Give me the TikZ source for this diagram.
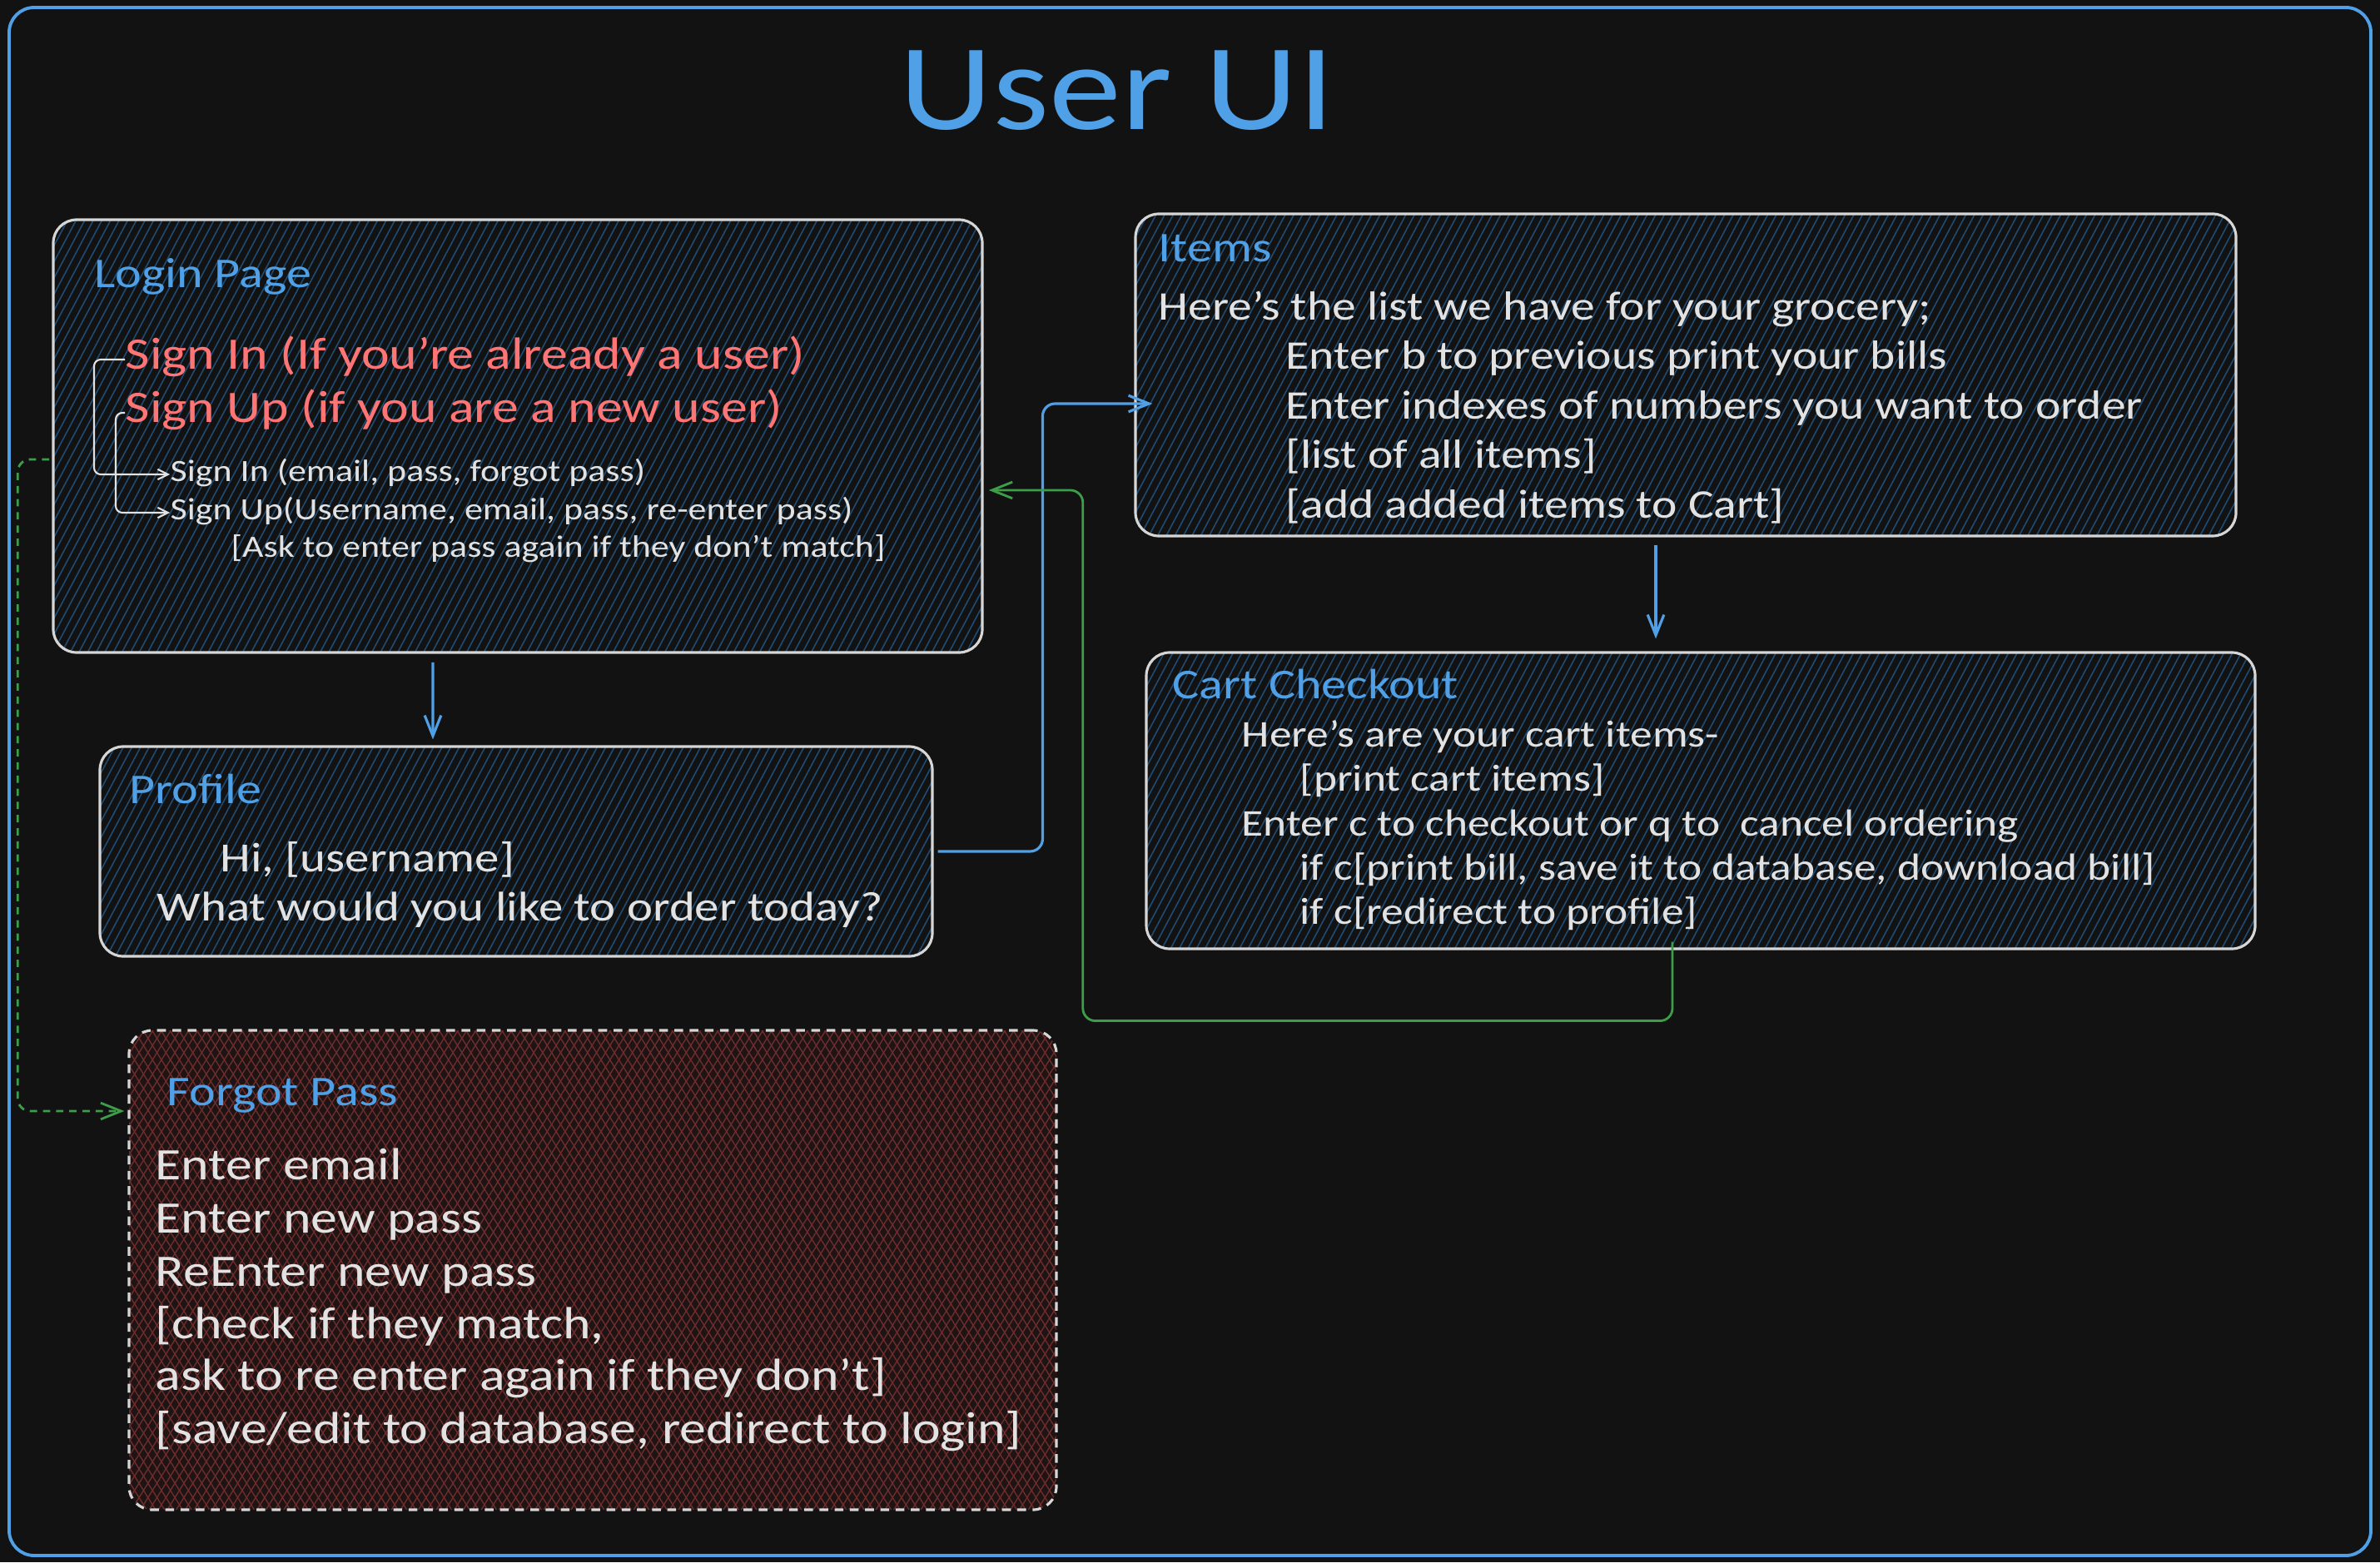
\documentclass[tikz,border=0pt]{standalone}
\usepackage{fontspec}
\setmainfont[FakeStretch=1.18]{Carlito}
\usetikzlibrary{arrows.meta,patterns.meta}

\definecolor{canvas}{HTML}{121212}
\definecolor{uiblue}{HTML}{4FA0E6}
\definecolor{uired}{HTML}{FF7474}
\definecolor{uitext}{HTML}{E2E2E2}
\definecolor{uiedge}{HTML}{D6D6D6}
\definecolor{hatch}{HTML}{1E4C74}
\definecolor{uigreen}{HTML}{3C9E48}
\definecolor{forgotfill}{HTML}{1E1414}
\definecolor{forgothatch}{HTML}{6E2C2C}

\tikzset{
  txt/.style={anchor=west, inner sep=0pt, text=uitext, yshift=-0.07cm,
    font=\fontsize{#1}{#1}\selectfont, execute at begin node=\strut},
  head/.style={txt=14.5, text=uiblue},
  sign/.style={txt=15.4, text=uired},
  page/.style={draw=uiedge, line width=0.9pt, rounded corners=0.28cm, inner sep=0pt,
    pattern={Lines[angle=62,distance=2.6pt,line width=0.45pt]}, pattern color=hatch},
  forgotpage/.style={preaction={fill=forgotfill},
    preaction={pattern={Lines[angle=-58,distance=2.6pt,line width=0.4pt]}, pattern color=forgothatch},
    draw=uiedge, line width=0.9pt, dash pattern=on 3pt off 2.2pt, rounded corners=0.28cm, inner sep=0pt,
    pattern={Lines[angle=58,distance=2.6pt,line width=0.4pt]}, pattern color=forgothatch},
  flow/.style={draw=uiblue, line width=0.9pt, rounded corners=0.15cm,
    -{Straight Barb[length=7pt,width=5.6pt]}},
  back/.style={draw=uigreen, line width=0.8pt, rounded corners=0.15cm,
    -{Straight Barb[length=7pt,width=5.6pt]}},
  link/.style={draw=uitext, line width=0.6pt, rounded corners=0.08cm,
    -{Straight Barb[length=3.5pt,width=3.5pt]}},
}

\begin{document}
\begin{tikzpicture}
  % canvas and frame
  \fill[canvas] (0,0) rectangle (28.59,-18.77);
  \useasboundingbox (0,0) rectangle (28.59,-18.77);
  \draw[uiblue, line width=1.1pt, rounded corners=0.3cm] (0.11,-0.09) rectangle (28.48,-18.69);
  \node[text=uiblue, font=\fontsize{42}{42}\selectfont] (title) at (13.42,-1.09) {User UI};

  % pages
  \node[page, minimum width=11.16cm, minimum height=5.20cm] (login) at (6.22,-5.24) {};
  \node[page, minimum width=13.22cm, minimum height=3.87cm] (items) at (20.25,-4.505) {};
  \node[page, minimum width=13.32cm, minimum height=3.56cm] (cart) at (20.43,-9.62) {};
  \node[page, minimum width=10.00cm, minimum height=2.52cm] (profile) at (6.20,-10.23) {};
  \node[forgotpage, minimum width=11.14cm, minimum height=5.76cm] (forgot) at (7.12,-15.26) {};

  % login page
  \node[head] (loginhead) at (1.13,-3.28) {Login Page};
  \node[sign] (signin) at (1.50,-4.25) {Sign In (If you're already a user)};
  \node[sign] (signup) at (1.50,-4.89) {Sign Up (if you are a new user)};
  \node[txt=10.6] (signinform) at (2.04,-5.63) {Sign In (email, pass, forgot pass)};
  \node[txt=10.6] (signupform) at (2.04,-6.09) {Sign Up(Username, email, pass, re-enter pass)};
  \node[txt=10.6] (mismatch) at (2.77,-6.55) {[Ask to enter pass again if they don't match]};
  \draw[link] (signin.west) -- ++(-0.37,0) |- (signinform.west);
  \draw[link] (signup.west) -- ++(-0.11,0) |- (signupform.west);

  % items
  \node[head] (itemshead) at (13.91,-2.97) {Items};
  \node[txt=13.9] (itemsintro) at (13.91,-3.68) {Here's the list we have for your grocery;};
  \node[txt=13.9] (itemsbill) at (15.44,-4.27) {Enter b to previous print your bills};
  \node[txt=13.9] (itemsorder) at (15.44,-4.87) {Enter indexes of numbers you want to order};
  \node[txt=13.9] (itemslist) at (15.44,-5.45) {[list of all items]};
  \node[txt=13.9] (itemscart) at (15.44,-6.05) {[add added items to Cart]};

  % cart checkout
  \node[head] (carthead) at (14.08,-8.22) {Cart Checkout};
  \node[txt=12.9] (cartintro) at (14.91,-8.81) {Here's are your cart items-};
  \node[txt=12.9] (cartprint) at (15.61,-9.34) {[print cart items]};
  \node[txt=12.9] (cartchoice) at (14.91,-9.88) {Enter c to checkout or q to~ cancel ordering};
  \node[txt=12.9] (cartbill) at (15.61,-10.41) {if c[print bill, save it to database, download bill]};
  \node[txt=12.9] (cartcancel) at (15.61,-10.94) {if c[redirect to profile]};

  % profile
  \node[head] (profilehead) at (1.55,-9.48) {Profile};
  \node[txt=14.2] (greeting) at (2.64,-10.30) {Hi, [username]};
  \node[txt=14.2] (question) at (1.88,-10.90) {What would you like to order today?};

  % forgot pass
  \node[head] (forgothead) at (2.00,-13.11) {Forgot Pass};
  \node[txt=15.4] (fpemail) at (1.86,-14.00) {Enter email};
  \node[txt=15.4] (fpnew) at (1.86,-14.64) {Enter new pass};
  \node[txt=15.4] (fpagain) at (1.86,-15.28) {ReEnter new pass};
  \node[txt=15.4] (fpcheck) at (1.86,-15.90) {[check if they match,};
  \node[txt=15.4] (fpretry) at (1.86,-16.52) {ask to re enter again if they don't]};
  \node[txt=15.4] (fpsave) at (1.86,-17.16) {[save/edit to database, redirect to login]};

  % connectors
  \draw[flow] ([xshift=-1.02cm,yshift=-0.11cm]login.south) -- ([xshift=-1.00cm,yshift=0.07cm]profile.north);
  \draw[flow] ([xshift=-0.36cm,yshift=-0.09cm]items.south) -- ([xshift=-0.54cm,yshift=0.15cm]cart.north);
  \draw[flow] ([xshift=0.05cm]profile.east) -| ([shift={(-1.10,-0.345)}]items.west)
    -- ([shift={(0.22,-0.345)}]items.west);
  \draw[back] ([shift={(-0.34,0.10)}]cart.south) -- ++(0,-0.95) -| ([shift={(1.20,-0.65)}]login.east)
    -- ([shift={(0.07,-0.65)}]login.east);
  \draw[back, dash pattern=on 2.5pt off 2pt] ([shift={(-0.04,-0.28)}]login.west)
    -| ([shift={(-1.33,1.91)}]forgot.west) -- ([shift={(-0.05,1.91)}]forgot.west);
\end{tikzpicture}
\end{document}
